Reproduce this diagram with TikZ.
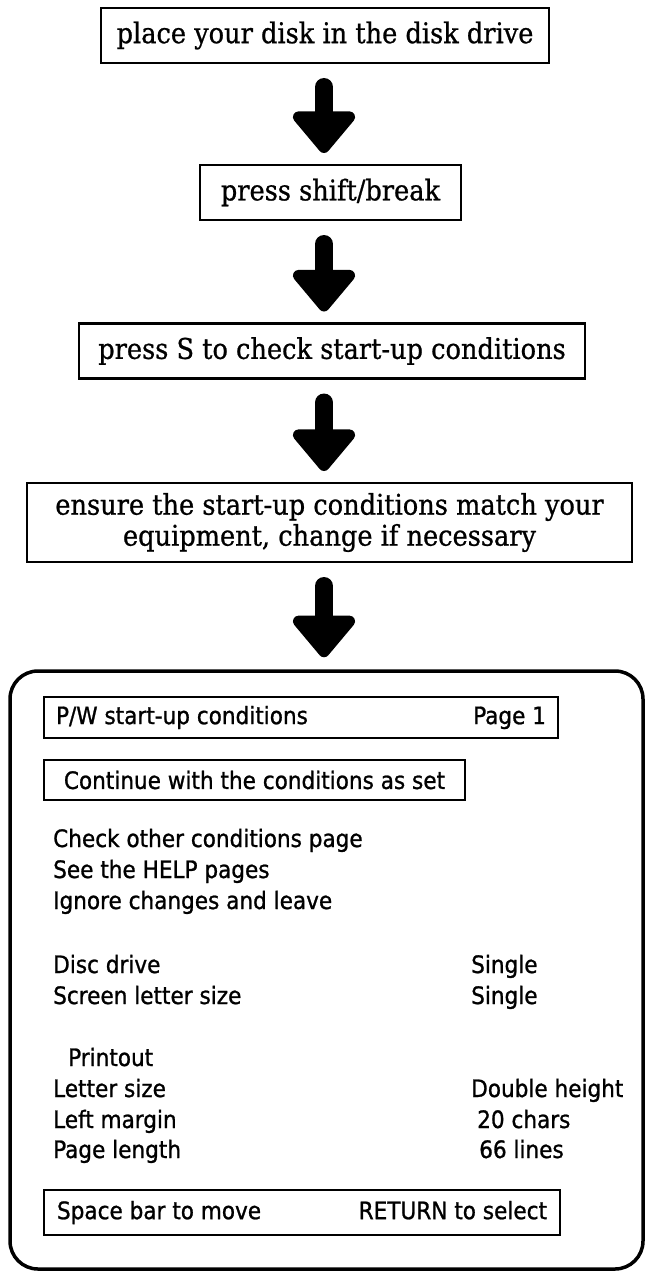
\documentclass[tikz,border=0pt]{standalone}
\usepackage{fontspec}
\usepackage{tikz}
\usetikzlibrary{arrows.meta,positioning,calc}
\newfontfamily\flowfont[FakeBold=0.8]{DejaVu Serif Condensed}
\newfontfamily\screenfont[FakeBold=1]{DejaVu Sans Condensed}

\begin{document}
\begin{tikzpicture}[x=1pt,y=-1pt,
    flowbox/.style={draw, line width=2.4pt, outer sep=0pt, inner xsep=10pt,
      minimum height=55pt, align=center,
      font=\flowfont\fontsize{28.5}{31}\selectfont},
    bigarrow/.style={line width=18pt, line cap=round,
      -{Triangle[round, width=72pt, length=45pt]},
      shorten <=24pt, shorten >=12pt},
    scrbox/.style={draw, line width=2.4pt, outer sep=0pt, anchor=west,
      inner xsep=9pt, inner ysep=0pt,
      font=\screenfont\fontsize{24}{31}\selectfont},
    scrtext/.style={anchor=base west, inner sep=0pt,
      font=\screenfont\fontsize{24}{31}\selectfont}]
  \useasboundingbox (0,0) rectangle (646,1271);
  \coordinate (spine) at (324,0);

  % the four steps
  \node[flowbox, minimum width=448pt] (place) at (325,35.5)
    {place your disk in the disk drive};
  \node[flowbox, minimum width=261pt] (shift) at (330.5,192.5)
    {press shift/break};
  \node[flowbox, minimum width=506pt] (pressS) at (332,351)
    {press S to check start-up conditions};
  \node[flowbox, minimum width=605pt, minimum height=79pt] (ensure) at (329.5,522.5)
    {ensure the start-up conditions match your\\ equipment, change if necessary};

  % the screen that comes up
  \node[draw, line width=3.5pt, rounded corners=28pt, minimum width=633pt,
    minimum height=598pt] (screen) at (326.5,970) {};

  % thick arrows down the middle
  \draw[bigarrow] (place.south -| spine) -- (shift.north -| spine);
  \draw[bigarrow] (shift.south -| spine) -- (pressS.north -| spine);
  \draw[bigarrow] (pressS.south -| spine) -- (ensure.north -| spine);
  \draw[bigarrow] (ensure.south -| spine) -- (screen.north -| spine);

  % screen contents
  \node[scrbox, minimum width=514pt, minimum height=41pt] (title) at (44,717.5)
    {\makebox[490pt]{P/W start-up conditions\hfill Page 1}};
  \node[scrbox, minimum width=421pt, minimum height=40pt] (cont) at (44,780)
    {Continue with the conditions as set};
  \node[scrtext] (other) at (53,847) {Check other conditions page};
  \node[scrtext] (help) at (53,878) {See the HELP pages};
  \node[scrtext] (ignore) at (53,909) {Ignore changes and leave};

  \node[scrtext] (disc) at (53,973) {Disc drive};
  \node[scrtext] (discval) at (471,973) {Single};
  \node[scrtext] (letter) at (53,1004) {Screen letter size};
  \node[scrtext] (letterval) at (471,1004) {Single};

  \node[scrtext] (printout) at (68,1066) {Printout};
  \node[scrtext] (psize) at (53,1097) {Letter size};
  \node[scrtext] (psizeval) at (471,1097) {Double height};
  \node[scrtext] (margin) at (53,1128) {Left margin};
  \node[scrtext] (marginval) at (477,1128) {20 chars};
  \node[scrtext] (length) at (53,1158) {Page length};
  \node[scrtext] (lengthval) at (479,1158) {66 lines};

  \node[scrbox, minimum width=516pt, minimum height=45pt] (keys) at (44,1212.5)
    {\makebox[490pt]{Space bar to move\hfill RETURN to select}};
\end{tikzpicture}
\end{document}
